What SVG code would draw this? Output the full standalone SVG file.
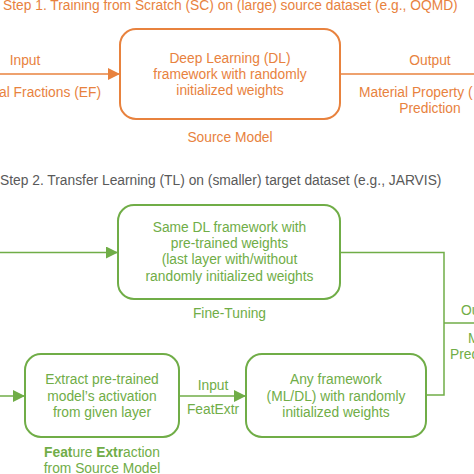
<svg xmlns="http://www.w3.org/2000/svg" width="474" height="474" viewBox="0 0 474 474">
<defs>
<style>
text{font-family:"Liberation Sans",Arial,sans-serif;font-size:13.8px}
.o{fill:#E8823E}
.g{fill:#70AD47}
.h2{fill:#595959}
.c{text-anchor:middle}
.e{text-anchor:end}
.bo{fill:#fff;stroke:#E8823E;stroke-width:2}
.bg{fill:#fff;stroke:#70AD47;stroke-width:2}
.lo{fill:none;stroke:#E8823E;stroke-width:1.5}
.lg{fill:none;stroke:#70AD47;stroke-width:1.5}
</style>
<marker id="ao" markerUnits="userSpaceOnUse" markerWidth="12" markerHeight="12" refX="12" refY="6" orient="auto"><path d="M0,0L12,6L0,12z" fill="#E8823E"/></marker>
<marker id="ag" markerUnits="userSpaceOnUse" markerWidth="12" markerHeight="12" refX="12" refY="6" orient="auto"><path d="M0,0L12,6L0,12z" fill="#70AD47"/></marker>
</defs>
<text class="o" x="3" y="10">Step 1. Training from Scratch (SC) on (large) source dataset (e.g., OQMD)</text>
<text class="h2" x="0" y="185">Step 2. Transfer Learning (TL) on (smaller) target dataset (e.g., JARVIS)</text>
<g id="connectors">
<line class="lo" x1="0" y1="74" x2="120" y2="74" marker-end="url(#ao)"/>
<line class="lo" x1="340" y1="74" x2="474" y2="74"/>
<line class="lg" x1="0" y1="252.5" x2="118" y2="252.5" marker-end="url(#ag)"/>
<polyline class="lg" points="340,252.5 444,252.5 444,395 426,395"/>
<line class="lg" x1="444" y1="323" x2="474" y2="323"/>
<line class="lg" x1="0" y1="396" x2="25" y2="396" marker-end="url(#ag)"/>
<line class="lg" x1="179" y1="396" x2="246" y2="396" marker-end="url(#ag)"/>
<text class="o c" x="25" y="65">Input</text>
<text class="o e" x="101" y="97">al Fractions (EF)</text>
<text class="o c" x="430" y="65">Output</text>
<text class="o" x="359" y="97">Material Property (</text>
<text class="o c" x="430" y="113">Prediction</text>
<text class="g" x="461" y="315">Output</text>
<text class="g" x="468" y="343">Material Property</text>
<text class="g" x="450" y="359">Prediction</text>
<text class="g c" x="213" y="390">Input</text>
<text class="g c" x="213" y="414">FeatExtr</text>
</g>
<g id="source-model">
<rect class="bo" x="120" y="29" width="220" height="90" rx="16"/>
<text class="o c" x="230" y="63">Deep Learning (DL)</text>
<text class="o c" x="230" y="79">framework with randomly</text>
<text class="o c" x="230" y="95">initialized weights</text>
<text class="o c" x="230" y="142">Source Model</text>
</g>
<g id="fine-tuning">
<rect class="bg" x="118" y="205" width="222" height="94" rx="16"/>
<text class="g c" x="229.5" y="232">Same DL framework with</text>
<text class="g c" x="229.5" y="248">pre-trained weights</text>
<text class="g c" x="229.5" y="264">(last layer with/without</text>
<text class="g c" x="229.5" y="281">randomly initialized weights</text>
<text class="g c" x="229.5" y="318">Fine-Tuning</text>
</g>
<g id="feature-extraction">
<rect class="bg" x="25" y="354" width="154" height="83" rx="16"/>
<text class="g c" x="102" y="384">Extract pre-trained</text>
<text class="g c" x="102" y="401">model’s activation</text>
<text class="g c" x="102" y="417">from given layer</text>
<text class="g c" x="102" y="457"><tspan font-weight="bold">Feat</tspan>ure <tspan font-weight="bold">Extr</tspan>action</text>
<text class="g c" x="102" y="473">from Source Model</text>
</g>
<g id="any-framework">
<rect class="bg" x="246" y="354" width="180" height="83" rx="16"/>
<text class="g c" x="336" y="384">Any framework</text>
<text class="g c" x="336" y="401">(ML/DL) with randomly</text>
<text class="g c" x="336" y="417">initialized weights</text>
</g>
</svg>
